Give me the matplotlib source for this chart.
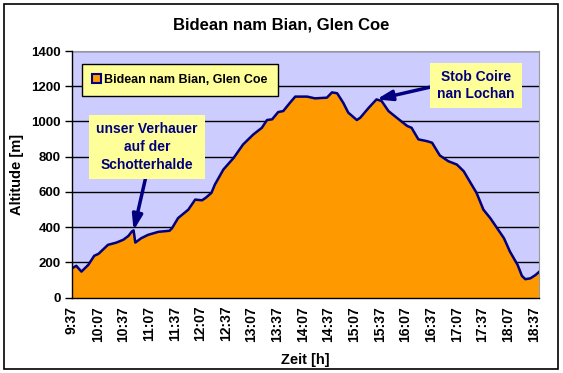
import matplotlib
matplotlib.use("Agg")
import matplotlib.pyplot as plt
from matplotlib.patches import Patch, Rectangle

plt.rcParams['font.family'] = ['Liberation Sans', 'DejaVu Sans']
plt.rcParams['font.weight'] = 'bold'

# time of day (h:mm) and altitude [m]
times = ["9:37", "9:42", "9:48", "9:56", "10:03", "10:08", "10:19", "10:29", "10:37",
         "10:43", "10:47", "10:49", "10:51", "10:58", "11:06", "11:18", "11:31", "11:34",
         "11:41", "11:53", "12:01", "12:09", "12:13", "12:20", "12:24", "12:34", "12:46",
         "12:57", "13:09", "13:19", "13:25", "13:31", "13:38", "13:44", "13:52", "13:58",
         "14:12", "14:21", "14:35", "14:41", "14:47", "14:54", "15:00", "15:10", "15:14",
         "15:24", "15:33", "15:39", "15:47", "15:59", "16:09", "16:14", "16:22", "16:32",
         "16:38", "16:47", "16:57", "17:07", "17:15", "17:23", "17:30", "17:38", "17:46",
         "17:54", "18:02", "18:09", "18:18", "18:23", "18:27", "18:33", "18:39", "18:43"]
altitude = [166, 180, 147, 185, 237, 248, 299, 312, 328,
            350, 375, 381, 312, 337, 356, 373, 379, 394,
            451, 499, 556, 552, 565, 594, 641, 727, 793,
            869, 926, 964, 1008, 1012, 1053, 1059, 1107, 1141,
            1141, 1131, 1135, 1165, 1160, 1107, 1050, 1008, 1021,
            1078, 1125, 1116, 1059, 1012, 974, 964, 898, 888,
            879, 807, 774, 755, 717, 651, 594, 499, 451,
            394, 337, 261, 185, 123, 104, 109, 128, 145]

tick_labels = ["9:37", "10:07", "10:37", "11:07", "11:37", "12:07", "12:37", "13:07",
               "13:37", "14:07", "14:37", "15:07", "15:37", "16:07", "16:37", "17:07",
               "17:37", "18:07", "18:37"]
y_ticks = [0, 200, 400, 600, 800, 1000, 1200, 1400]

title = "Bidean nam Bian, Glen Coe"
note_low = ("unser Verhauer\nauf der\nSchotterhalde", "10:49", 381)
note_high = ("Stob Coire\nnan Lochan", "15:33", 1125)


def to_min(t):
    h, m = t.split(":")
    return int(h) * 60 + int(m) - (9 * 60 + 37)


x = [to_min(t) for t in times]

W, H = 563, 373
fig = plt.figure(figsize=(W / 100, H / 100), dpi=100)
fig.patches.append(Rectangle((4 / W, 4 / H), 554 / W, 365 / H, transform=fig.transFigure,
                             fill=False, edgecolor='black', linewidth=1.2))

ax = fig.add_axes([72 / W, 1 - 297.5 / H, 467 / W, 246.5 / H])
ax.set_facecolor('#CCCCFF')
ax.fill_between(x, altitude, 0, color='#FF9900', zorder=2)
ax.plot(x, altitude, color='#000080', linewidth=1.8, zorder=3)

ax.set_xlim(0, x[-1])
ax.set_ylim(0, 1400)
ax.set_yticks(y_ticks)
ax.set_yticklabels([str(v) for v in y_ticks], fontsize=9.5, fontweight='bold')
ax.set_xticks([to_min(t) for t in tick_labels])
ax.set_xticklabels(tick_labels, rotation=90, fontsize=10, fontweight='bold')
ax.tick_params(axis='x', length=0, pad=6)
ax.tick_params(axis='y', length=5, width=1, direction='out', pad=3)
ax.grid(axis='y', color='black', linewidth=1, zorder=1)
ax.set_axisbelow(True)
for side in ['top', 'right']:
    ax.spines[side].set_color('#999999')
for side in ['left', 'bottom']:
    ax.spines[side].set_color('black')
    ax.spines[side].set_linewidth(1)
    ax.spines[side].set_zorder(4)

fig.text(281 / W, 1 - 25 / H, title, ha='center', va='center', fontsize=12, fontweight='bold')
ax.set_ylabel("Altitude [m]", fontsize=10.5, fontweight='bold', labelpad=5)
ax.set_xlabel("Zeit [h]", fontsize=10.5, fontweight='bold', labelpad=8)

leg = ax.legend([Patch(facecolor='#FF9900', edgecolor='#000080', linewidth=1.5)], [title],
                loc='upper left', bbox_to_anchor=(82 / W, 1 - 64 / H),
                bbox_transform=fig.transFigure, fancybox=False, framealpha=1,
                facecolor='#FFFF99', edgecolor='black', fontsize=9,
                handlelength=0.7, handleheight=0.7, handletextpad=0.3,
                borderpad=0.8, borderaxespad=0)
leg.get_frame().set_linewidth(1)

box = dict(boxstyle='square,pad=0.5', facecolor='#FFFF99', edgecolor='none')
arrow = dict(arrowstyle='-|>,head_length=0.9,head_width=0.3', color='#000080',
             linewidth=2.5, shrinkA=0, shrinkB=0)

ax.annotate(note_low[0], xy=(to_min(note_low[1]), note_low[2]), xytext=(147, 373 - 147),
            textcoords='figure pixels', ha='center', va='center', fontsize=10,
            fontweight='bold', color='#000080', bbox=box, linespacing=1.35,
            arrowprops=dict(arrow, relpos=(0.5, 0)), zorder=5)
ax.annotate(note_high[0], xy=(to_min(note_high[1]), note_high[2]), xytext=(476, 373 - 85.5),
            textcoords='figure pixels', ha='center', va='center', fontsize=10,
            fontweight='bold', color='#000080', bbox=box, linespacing=1.35,
            arrowprops=dict(arrow, relpos=(0, 0.5)), zorder=5)

fig.savefig('out.png', dpi=100)
